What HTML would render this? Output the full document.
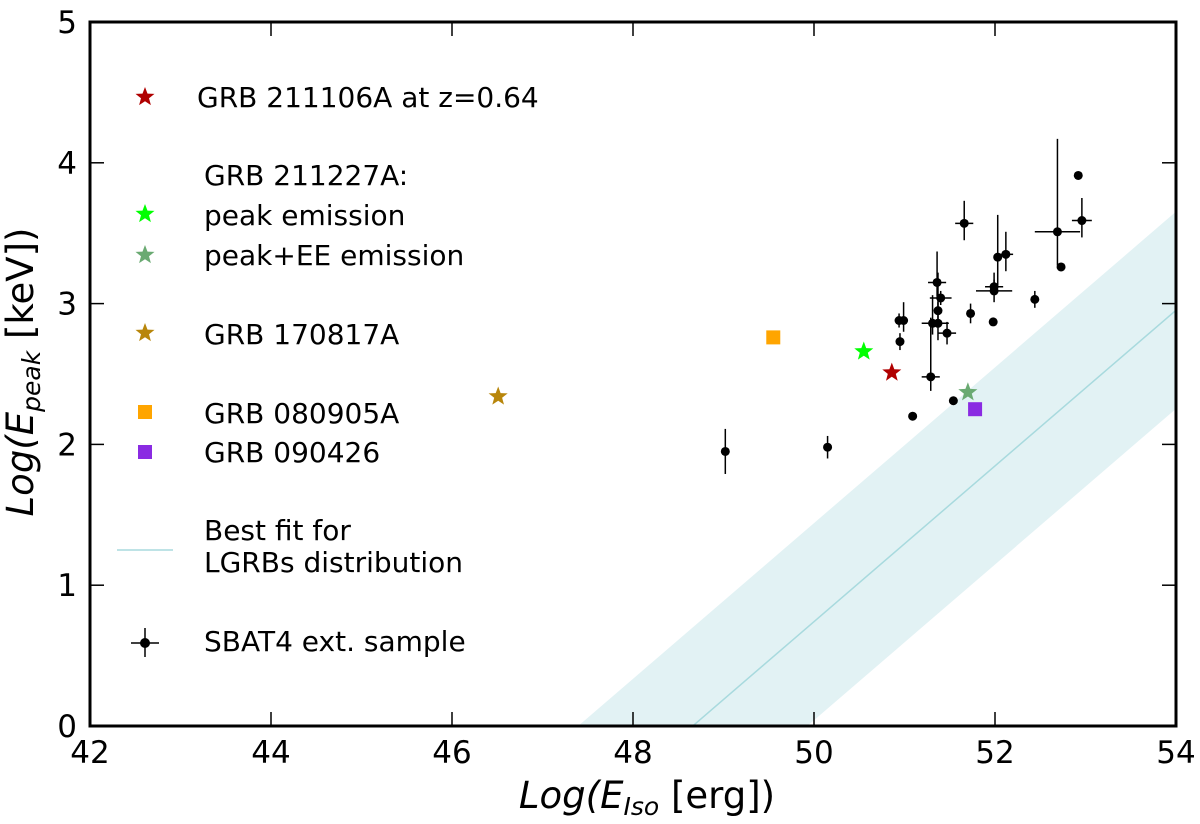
<!DOCTYPE html>
<html><head><meta charset="utf-8"><style>
html,body{margin:0;padding:0;background:#fff;overflow:hidden;width:1200px;height:824px;}
svg{display:block;}
svg text{font-family:"DejaVu Sans","Liberation Sans",sans-serif;fill:#000;}
</style></head><body>
<svg id="chart" width="1200" height="824" xmlns="http://www.w3.org/2000/svg">
<defs><clipPath id="clip"><rect x="90" y="22" width="1086" height="704"/></clipPath></defs>
<g id="band" clip-path="url(#clip)"></g>
<g id="marks"></g>
<rect x="90" y="22" width="1086" height="704" fill="none" stroke="#000" stroke-width="3"/>
<g id="ticks"></g>
<text x="647" y="808" font-size="37" text-anchor="middle"><tspan font-style="italic">Log(E</tspan><tspan font-style="italic" font-size="25" dy="7">Iso</tspan><tspan dy="-7"> [erg])</tspan></text>
<text transform="translate(33,372) rotate(-90)" font-size="37" text-anchor="middle"><tspan font-style="italic">Log(E</tspan><tspan font-style="italic" font-size="25" dy="7">peak</tspan><tspan dy="-7"> [keV])</tspan></text>
<g id="legend">
<text x="197" y="107" font-size="28">GRB 211106A at z=0.64</text>
<text x="204" y="185" font-size="28">GRB 211227A:</text>
<text x="204" y="225" font-size="28">peak emission</text>
<text x="204" y="265" font-size="28">peak+EE emission</text>
<text x="204" y="344" font-size="28">GRB 170817A</text>
<text x="204" y="423" font-size="28">GRB 080905A</text>
<text x="204" y="462" font-size="28">GRB 090426</text>
<text x="204" y="540" font-size="28">Best fit for</text>
<text x="204" y="572" font-size="28">LGRBs distribution</text>
<line x1="117" y1="550" x2="173" y2="550" stroke="#a8dade" stroke-width="1.5"/>
<text x="204" y="651" font-size="28">SBAT4 ext. sample</text>
<line x1="131" y1="643" x2="159" y2="643" stroke="#000" stroke-width="1.5"/>
<line x1="145" y1="628" x2="145" y2="657" stroke="#000" stroke-width="1.5"/>
<circle cx="145" cy="643" r="5" fill="#000"/>
</g>
</svg>
<script>
const xVals=[49.02,50.15,51.09,51.29,51.54,50.94,50.99,50.95,51.31,51.37,51.47,51.37,51.40,51.36,51.66,51.73,51.98,51.99,51.99,52.03,52.12,52.44,52.69,52.73,52.92,52.96];
const yVals=[1.95,1.98,2.20,2.48,2.31,2.88,2.88,2.73,2.86,2.86,2.79,2.95,3.04,3.15,3.57,2.93,2.87,3.12,3.09,3.33,3.35,3.03,3.51,3.26,3.91,3.59];
const yErrLo=[0.16,0.08,0,0.10,0,0.05,0.08,0.06,0.08,0.12,0.08,0.06,0.05,0.10,0.12,0.07,0,0.05,0.08,0.20,0.12,0.06,0.24,0,0,0.12];
const yErrHi=[0.16,0.08,0,0.42,0,0.05,0.13,0.06,0.20,0.36,0.08,0.06,0.05,0.22,0.16,0.07,0,0.05,0.13,0.30,0.16,0.06,0.66,0,0,0.16];
const xErr=[0,0,0,0.10,0,0,0,0,0.12,0.12,0.10,0,0.12,0.10,0.10,0,0,0.10,0.20,0,0.08,0,0.25,0,0,0.11];
const specialNames=['grb211106a','grb211227a-peak','grb211227a-peak-ee','grb170817a','grb080905a','grb090426'];
const specialX=[50.86,50.55,51.70,46.51,49.55,51.78];
const specialY=[2.51,2.66,2.37,2.34,2.76,2.25];
const specialColor=['#b00000','#00ff00','#6aaa72','#b8860b','#ffa500','#8a2be2'];
const specialShape=['star','star','star','star','square','square'];
const legendY=[97,214,255,333,412,452];
const fitSlope=0.553, fitX0=48.66, fitHalfWidth=0.70;
const xTicks=[42,44,46,48,50,52,54];
const yTicks=[0,1,2,3,4,5];
const NS='http://www.w3.org/2000/svg';
const sx=v=>90+(v-42)*1086/12;
const sy=v=>726-v*704/5;
function mk(tag,attrs,parent){const e=document.createElementNS(NS,tag);for(const k in attrs)e.setAttribute(k,attrs[k]);parent.appendChild(e);return e;}
function starPts(cx,cy,R){const r=R*0.42;let p=[];for(let i=0;i<10;i++){const a=-Math.PI/2+i*Math.PI/5;const rr=i%2?r:R;p.push((cx+rr*Math.cos(a)).toFixed(1)+','+(cy+rr*Math.sin(a)).toFixed(1));}return p.join(' ');}
const band=document.getElementById('band');
const f=x=>fitSlope*(x-fitX0);
const bx1=40,bx2=56;
const poly=mk('polygon',{points:`${sx(bx1)},${sy(f(bx1)+fitHalfWidth)} ${sx(bx2)},${sy(f(bx2)+fitHalfWidth)} ${sx(bx2)},${sy(f(bx2)-fitHalfWidth)} ${sx(bx1)},${sy(f(bx1)-fitHalfWidth)}`,fill:'#e2f2f4'},band);


const fl=mk('line',{x1:sx(bx1),y1:sy(f(bx1)),x2:sx(bx2),y2:sy(f(bx2)),stroke:'#a8dade','stroke-width':1.5},band);


const marks=document.getElementById('marks');
for(let i=0;i<xVals.length;i++){
  const g=mk('g',{},marks);
  
  
  const cx=sx(xVals[i]),cy=sy(yVals[i]);
  if(yErrLo[i]||yErrHi[i])mk('line',{x1:cx,x2:cx,y1:sy(yVals[i]+yErrHi[i]),y2:sy(yVals[i]-yErrLo[i]),stroke:'#000','stroke-width':1.5},g);
  if(xErr[i])mk('line',{x1:sx(xVals[i]-xErr[i]),x2:sx(xVals[i]+xErr[i]),y1:cy,y2:cy,stroke:'#000','stroke-width':1.5},g);
  mk('circle',{cx:cx,cy:cy,r:4.5,fill:'#000'},g);
}
const legend=document.getElementById('legend');
for(let i=0;i<specialX.length;i++){
  const cx=sx(specialX[i]),cy=sy(specialY[i]);
  let e,le;
  if(specialShape[i]==='star'){
    e=mk('polygon',{points:starPts(cx,cy,10),fill:specialColor[i]},marks);
    le=mk('polygon',{points:starPts(145,legendY[i],10),fill:specialColor[i]},legend);
  }else{
    e=mk('rect',{x:cx-7,y:cy-7,width:14,height:14,fill:specialColor[i]},marks);
    le=mk('rect',{x:138,y:legendY[i]-7,width:14,height:14,fill:specialColor[i]},legend);
  }
  
  
  
  
}
const ticks=document.getElementById('ticks');
xTicks.forEach(t=>{
  const x=sx(t);
  const l=mk('line',{x1:x,x2:x,y1:726,y2:712,stroke:'#000','stroke-width':1.5},ticks);
  
  
  mk('line',{x1:x,x2:x,y1:22,y2:36,stroke:'#000','stroke-width':1.5},ticks);
  const tx=mk('text',{x:x,y:763,'font-size':31,'text-anchor':'middle'},ticks);
  tx.textContent=t;
  
  
});
yTicks.forEach(t=>{
  const y=sy(t);
  const l=mk('line',{x1:90,x2:104,y1:y,y2:y,stroke:'#000','stroke-width':1.5},ticks);
  
  
  mk('line',{x1:1162,x2:1176,y1:y,y2:y,stroke:'#000','stroke-width':1.5},ticks);
  const tx=mk('text',{x:77,y:y+11,'font-size':31,'text-anchor':'end'},ticks);
  tx.textContent=t;
  
  
});
</script>
</body></html>
